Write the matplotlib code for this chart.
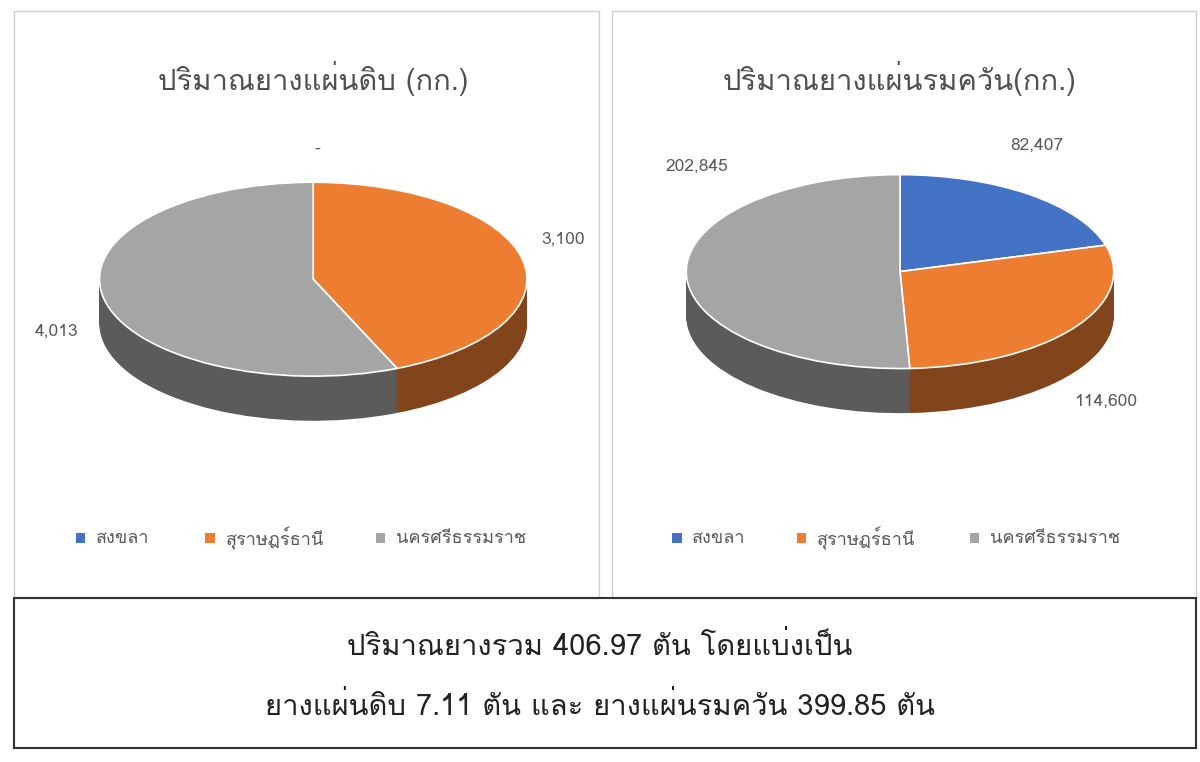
import matplotlib
matplotlib.use("Agg")
import matplotlib.pyplot as plt
from matplotlib.patches import Rectangle
import matplotlib.colors as mc

plt.rcParams['font.family'] = ['Tahoma', 'Loma', 'Garuda', 'Noto Sans Thai', 'Noto Sans', 'DejaVu Sans']

categories = ['สงขลา', 'สุราษฎร์ธานี', 'นครศรีธรรมราช']
raw_values = [0, 3100, 4013]
raw_labels = ['-', '3,100', '4,013']
smoked_values = [82407, 114600, 202845]
smoked_labels = ['82,407', '114,600', '202,845']
colors = ['#4472C4', '#ED7D31', '#A5A5A5']
titles = ['ปริมาณยางแผ่นดิบ (กก.)', 'ปริมาณยางแผ่นรมควัน(กก.)']
summary = ['ปริมาณยางรวม 406.97 ตัน โดยแบ่งเป็น', 'ยางแผ่นดิบ 7.11 ตัน และ ยางแผ่นรมควัน 399.85 ตัน']

fig = plt.figure(figsize=(12, 7.62), dpi=100)
fig.patch.set_facecolor('white')

def dark(c, f=0.55):
    r, g, b = mc.to_rgb(c)
    return (r*f, g*f, b*f)

panels = [(0.012, 0.215, 0.487, 0.77), (0.51, 0.215, 0.487, 0.77)]
for x, y, w, h in panels:
    fig.add_artist(Rectangle((x, y), w, h, transform=fig.transFigure, fill=False, ec='#d0d0d0', lw=1))
fig.add_artist(Rectangle((0.012, 0.018), 0.985, 0.197, transform=fig.transFigure, fill=False, ec='#333333', lw=1.5))

pies = [(raw_values, raw_labels, [(0.02, 1.34), (1.17, 0.41), (-1.2, -0.54)], 0.074, 0.43, 0.261),
        (smoked_values, smoked_labels, [(0.64, 1.3), (0.96, -1.34), (-0.95, 1.08)], 0.563, 0.44, 0.75)]
legend_x = [[0.063, 0.171, 0.313], [0.560, 0.664, 0.808]]

for i, (vals, labs, lpos, axl, axb, tcx) in enumerate(pies):
    fig.text(tcx, 0.897, titles[i], ha='center', va='center', fontsize=21, color='#505050')
    ax = fig.add_axes([axl, axb, 0.374, 0.369])
    depth = 0.46
    n = 40
    for k in range(n, 0, -1):
        off = -depth * k / n
        ax.pie(vals, colors=[dark(c) for c in colors], startangle=90, counterclock=False,
               center=(0, off), radius=1, wedgeprops=dict(lw=0))
    ax.pie(vals, colors=colors, startangle=90, counterclock=False, center=(0, 0), radius=1,
           wedgeprops=dict(ec='white', lw=1.2))
    ax.set_xlim(-1.05, 1.05)
    ax.set_ylim(-1.6, 1.3)
    ax.set_aspect('auto')
    ax.axis('off')
    for lab, (lx, ly) in zip(labs, lpos):
        ax.text(lx, ly, lab, ha='center', va='center', fontsize=12.5, color='#595959', clip_on=False)
    for c, cat, xx in zip(colors, categories, legend_x[i]):
        fig.add_artist(Rectangle((xx, 0.288), 0.008, 0.012, transform=fig.transFigure, fc=c, ec='none'))
        fig.text(xx + 0.017, 0.294, cat, ha='left', va='center', fontsize=13, color='#595959')

fig.text(0.5, 0.152, summary[0], ha='center', va='center', fontsize=21, color='#222222')
fig.text(0.5, 0.073, summary[1], ha='center', va='center', fontsize=21, color='#222222')

fig.savefig('out.png', dpi=100, facecolor='white')
